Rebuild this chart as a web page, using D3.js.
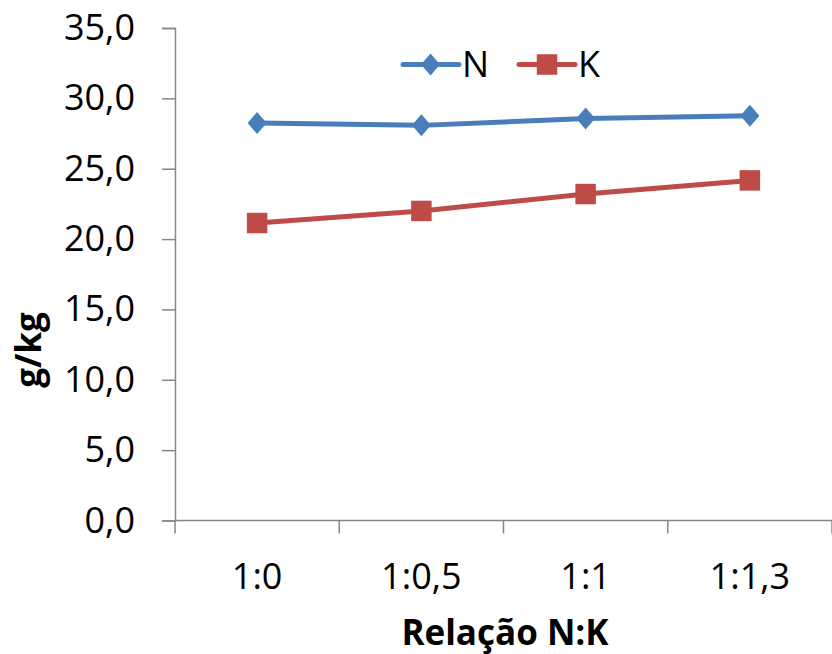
<html>
<head>
  <meta charset="utf8">
  <style>
  * { margin: 0; padding: 0; }
  body { background: #fff; }
  text { font-family: "Open Sans", "Liberation Sans", sans-serif; }
  </style>
</head>
<body>
  <script src="https://cdn.jsdelivr.net/npm/d3@7"></script>
  <script>
  var w = 832;
  var h = 654;

  var categories = ["1:0", "1:0,5", "1:1", "1:1,3"];
  var nValues = [28.25, 28.08, 28.56, 28.77];
  var kValues = [21.14, 22.0, 23.2, 24.17];
  var yTicks = [0, 5, 10, 15, 20, 25, 30, 35];

  // diamond a bit taller than wide, like the original marker
  var tallDiamond = {
    draw: function(ctx, size) {
      var hw = 9.5, hh = 11;
      ctx.moveTo(0, -hh);
      ctx.lineTo(hw, 0);
      ctx.lineTo(0, hh);
      ctx.lineTo(-hw, 0);
      ctx.closePath();
    }
  };

  var series = [
    { name: "N", values: nValues, color: "#4A7EBB", symbol: tallDiamond, size: 200 },
    { name: "K", values: kValues, color: "#BE4B48", symbol: d3.symbolSquare, size: 420 }
  ];

  var mLeft = 175, mRight = 832, mTop = 28, mBottom = 520.5;

  var xScale = d3.scaleBand()
    .domain(categories)
    .range([mLeft, mRight]);
  var yScale = d3.scaleLinear()
    .domain([0, 35])
    .range([mBottom, mTop]);

  var svg = d3.select("body")
    .append("svg")
    .attr("width", w)
    .attr("height", h);

  //y axis
  var yAxis = svg.append("g")
    .attr("transform", "translate(" + mLeft + ",0)")
    .call(d3.axisLeft(yScale)
      .tickValues(yTicks)
      .tickSize(13)
      .tickPadding(27)
      .tickFormat(function(d) { return d.toFixed(1).replace(".", ","); }));
  yAxis.select(".domain").attr("stroke", "#868686").attr("stroke-width", 1.5);
  yAxis.selectAll(".tick line").attr("stroke", "#868686").attr("stroke-width", 1.5);
  yAxis.selectAll(".tick text")
    .attr("font-size", "36px")
    .attr("fill", "#000")
    .style("font-family", "'Open Sans', sans-serif");

  //x axis, ticks at band edges
  var xAxis = svg.append("g")
    .attr("transform", "translate(0," + mBottom + ")");
  xAxis.append("line")
    .attr("x1", mLeft).attr("x2", mRight)
    .attr("stroke", "#868686").attr("stroke-width", 1.5);
  var edges = categories.map(function(c) { return xScale(c); }).concat([mRight]);
  xAxis.selectAll(".edge")
    .data(edges)
    .enter()
    .append("line")
    .attr("x1", function(d) { return d; })
    .attr("x2", function(d) { return d; })
    .attr("y1", 0).attr("y2", 13)
    .attr("stroke", "#868686").attr("stroke-width", 1.5);
  xAxis.selectAll(".lbl")
    .data(categories)
    .enter()
    .append("text")
    .attr("x", function(d) { return xScale(d) + xScale.bandwidth() / 2; })
    .attr("y", 68)
    .attr("text-anchor", "middle")
    .attr("font-size", "36px")
    .text(function(d) { return d; });

  //lines and markers
  var line = d3.line()
    .x(function(d, i) { return xScale(categories[i]) + xScale.bandwidth() / 2; })
    .y(function(d) { return yScale(d); });

  series.forEach(function(s) {
    svg.append("path")
      .datum(s.values)
      .attr("d", line)
      .attr("fill", "none")
      .attr("stroke", s.color)
      .attr("stroke-width", 5)
      .attr("stroke-linejoin", "round");
    svg.selectAll(".m" + s.name)
      .data(s.values)
      .enter()
      .append("path")
      .attr("d", d3.symbol().type(s.symbol).size(s.size))
      .attr("transform", function(d, i) {
        return "translate(" + (xScale(categories[i]) + xScale.bandwidth() / 2) + "," + yScale(d) + ")";
      })
      .attr("fill", s.color);
  });

  //legend
  var legend = svg.append("g");
  var lx = [403, 519];
  series.forEach(function(s, i) {
    var g = legend.append("g").attr("transform", "translate(" + lx[i] + ",64.5)");
    g.append("line")
      .attr("x1", 0).attr("x2", 56)
      .attr("stroke", s.color).attr("stroke-width", 5).attr("stroke-linecap", "round");
    g.append("path")
      .attr("d", d3.symbol().type(s.symbol).size(s.size))
      .attr("transform", "translate(" + (i == 0 ? 27.5 : 28) + ",0)")
      .attr("fill", s.color);
    g.append("text")
      .attr("x", 59).attr("y", 12.5)
      .attr("font-size", "36px")
      .text(s.name);
  });

  //axis titles
  svg.append("text")
    .attr("transform", "translate(41,350) rotate(-90)")
    .attr("text-anchor", "middle")
    .attr("font-size", "35px")
    .attr("font-weight", "bold")
    .text("g/kg");
  svg.append("text")
    .attr("x", 505)
    .attr("y", 645)
    .attr("text-anchor", "middle")
    .attr("font-size", "35px")
    .attr("font-weight", "bold")
    .text("Relação N:K");
  </script>
</body>
</html>
